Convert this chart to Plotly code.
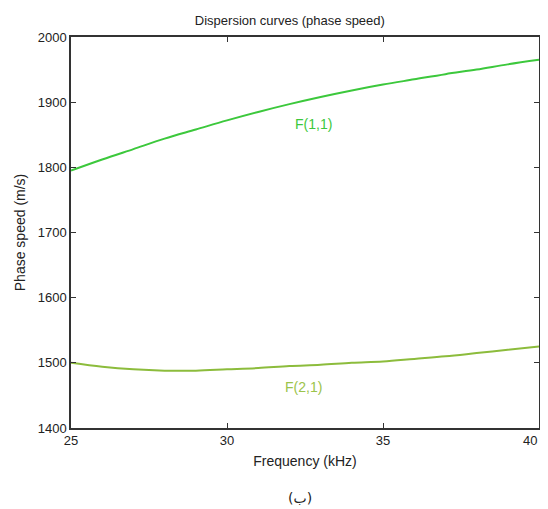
import plotly.graph_objects as go

freq = [25, 26, 27, 28, 29, 30, 31, 32, 33, 34, 35, 36, 37, 38, 39, 40]
f11 = [1795, 1812, 1828, 1844, 1858, 1872, 1885, 1897, 1908, 1918, 1927, 1935, 1943, 1950, 1958, 1965]
f21 = [1500, 1494, 1490, 1488, 1488, 1490, 1492, 1495, 1497, 1500, 1502, 1506, 1510, 1515, 1520, 1525]
x_ticks = [25, 30, 35, 40]
x_tick_labels = ["25", "30", "35", "40"]
y_ticks = [1400, 1500, 1600, 1700, 1800, 1900, 2000]

tick_font = dict(size=13, family="Liberation Sans Narrow, Liberation Sans", color="#222")
title_font = dict(size=14, family="Liberation Sans", color="#222")

fig = go.Figure()
fig.add_trace(go.Scatter(x=freq, y=f11, mode="lines", line=dict(color="#3cc83c", width=2, shape="spline"), showlegend=False))
fig.add_trace(go.Scatter(x=freq, y=f21, mode="lines", line=dict(color="#8cbc3c", width=2, shape="spline"), showlegend=False))

fig.add_annotation(x=32.76, y=1866, text="F(1,1)", showarrow=False, font=dict(color="#3cc83c", size=14, family="Liberation Sans"))
fig.add_annotation(x=32.44, y=1463, text="F(2,1)", showarrow=False, font=dict(color="#9bc34a", size=14, family="Liberation Sans"))

# last x tick label drawn right-aligned so it is not clipped by the page edge
fig.add_annotation(x=x_ticks[-1], xref="x", yref="paper", y=0, yshift=-3, xanchor="right", yanchor="top",
                   text=x_tick_labels[-1], showarrow=False, font=tick_font)

fig.add_annotation(xref="paper", yref="paper", x=0.49, y=-0.179, text="(ب)", showarrow=False,
                   font=dict(color="#222", size=14, family="DejaVu Sans"), yanchor="middle")

axis_common = dict(showgrid=False, zeroline=False, showline=True, linecolor="#333", linewidth=1.5,
                   mirror="ticks", ticks="inside", ticklen=5, tickcolor="#333", automargin=False,
                   tickfont=tick_font)

fig.update_xaxes(range=[25, 40], tickvals=x_ticks, ticktext=x_tick_labels[:-1] + [""],
                 title=dict(text="Frequency (kHz)", standoff=9, font=title_font), **axis_common)
fig.update_yaxes(range=[1400, 2000], tickvals=y_ticks,
                 title=dict(text="Phase speed (m/s)", standoff=9, font=title_font), **axis_common)

fig.update_layout(
    width=540, height=501,
    margin=dict(l=63, r=9, t=29, b=81, autoexpand=False),
    paper_bgcolor="white", plot_bgcolor="white",
    title=dict(text="Dispersion curves (phase speed)", x=0.522, xanchor="center", y=1 - 12 / 501, yanchor="middle",
               automargin=False, font=dict(size=13, family="Liberation Sans", color="#222")),
)

fig.write_html("out.html")
